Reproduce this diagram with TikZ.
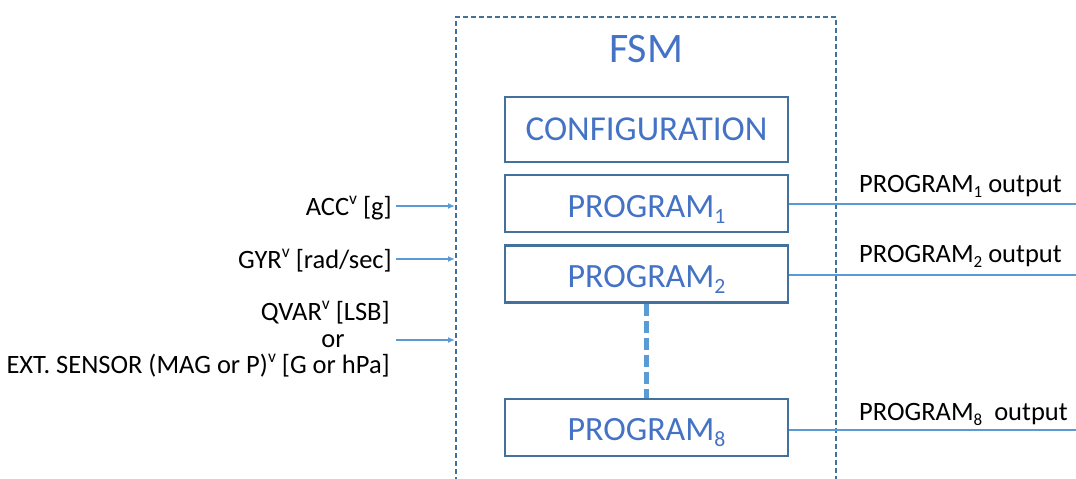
\documentclass[tikz,border=0pt]{standalone}
\usepackage{fontspec}
\usepackage{graphicx}
\setmainfont{Carlito}
\usetikzlibrary{arrows.meta}
\definecolor{boxc}{HTML}{41719C}
\definecolor{txtc}{HTML}{4472C4}
\definecolor{linec}{HTML}{5B9BD5}
\newcommand\dsub[1]{\raisebox{-0.2em}{\scalebox{0.64}{#1}}}
\newcommand\dsup[1]{\raisebox{0.38em}{\scalebox{0.66}{#1}}}
\begin{document}
\begin{tikzpicture}[x=1pt,y=-1pt,
  frame/.style={draw=boxc,line width=2pt,dash pattern=on 5pt off 3pt},
  pbox/.style={draw=boxc,line width=2.6pt,minimum width=283pt,minimum height=57pt,inner sep=0pt},
  btext/.style={text=txtc,font=\fontsize{34}{40}\selectfont,anchor=base,inner sep=0pt},
  lbl/.style={text=black,font=\fontsize{26.5}{30}\selectfont,inner sep=0pt},
  outline/.style={draw=linec,line width=2.2pt},
  inarrow/.style={draw=linec,line width=2pt,-{Latex[length=7pt,width=6pt]}},
  dots/.style={draw=linec,line width=4.5pt,dash pattern=on 12pt off 5pt}]
\useasboundingbox (0,0) rectangle (1076,479);
% FSM frame
\draw[frame] (456,482) -- (456,17) -- (836,17) -- (836,482);
\node[text=txtc,font=\fontsize{42}{50}\selectfont,anchor=base,inner sep=0pt] (fsm) at (646,62) {FSM};
% boxes
\node[pbox,minimum height=65pt] (cfg) at (646.5,129.5) {};
\node[pbox] (p1) at (646.5,203.5) {};
\node[pbox] (p2) at (646.5,274) {};
\node[pbox] (p8) at (646.5,427.5) {};
\node[btext,font=\fontsize{35}{40}\selectfont] (cfgt) at (646.5,140) {CONFIGURATION};
\node[btext] (p1t) at (646.5,217) {PROGRAM\dsub{1}};
\node[btext] (p2t) at (646.5,287) {PROGRAM\dsub{2}};
\node[btext] (p8t) at (646.5,440) {PROGRAM\dsub{8}};
% dashed link
\draw[dots] (p2.south) -- (p8.north);
% outputs
\coordinate (o1) at (1076,204);
\coordinate (o2) at (1076,275);
\coordinate (o8) at (1076,430);
\draw[outline] (p1.east |- o1) -- (o1);
\draw[outline] (p2.east |- o2) -- (o2);
\draw[outline] (p8.east |- o8) -- (o8);
\node[lbl,anchor=base west] (l1) at (859,192) {PROGRAM\dsub{1} output};
\node[lbl,anchor=base west] (l2) at (859,262) {PROGRAM\dsub{2} output};
\node[lbl,anchor=base west] (l8) at (859,420) {PROGRAM\dsub{8}\ \ output};
% inputs
\node[lbl,anchor=base east] (acc) at (392,215) {ACC\dsup{v} [g]};
\node[lbl,anchor=base east] (gyr) at (392,268) {GYR\dsup{v} [rad/sec]};
\node[lbl,anchor=base east] (qvar) at (390,320) {QVAR\dsup{v} [LSB]};
\node[lbl,anchor=base] (or) at (333,347) {or};
\node[lbl,anchor=base east] (ext) at (390,373) {EXT. SENSOR (MAG or P)\dsup{v} [G or hPa]};
\coordinate (a1s) at (396,206); \coordinate (a1e) at (455,206);
\coordinate (a2s) at (396,259); \coordinate (a2e) at (455,259);
\coordinate (a3s) at (396,340); \coordinate (a3e) at (455,340);
\draw[inarrow] (a1s) -- (a1e);
\draw[inarrow] (a2s) -- (a2e);
\draw[inarrow] (a3s) -- (a3e);
\end{tikzpicture}
\end{document}
